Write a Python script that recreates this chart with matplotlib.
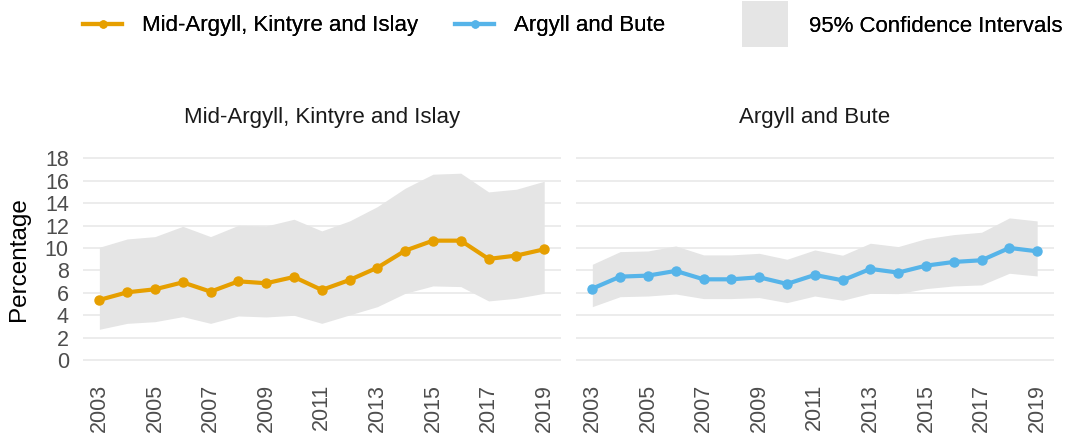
import numpy as np
import matplotlib.pyplot as plt
from matplotlib.patches import Rectangle
from matplotlib.lines import Line2D
from matplotlib.legend_handler import HandlerPatch

plt.rcParams["font.family"] = ["Liberation Sans", "DejaVu Sans"]

years = list(range(2003, 2020))

# Mid-Argyll, Kintyre and Islay
mid_value = [5.36, 6.04, 6.31, 6.93, 6.10, 7.02, 6.85, 7.41, 6.25, 7.14,
             8.24, 9.76, 10.65, 10.65, 9.02, 9.32, 9.88]
mid_upper = [10.06, 10.80, 11.01, 11.93, 11.01, 12.02, 11.96, 12.56, 11.52, 12.41,
             13.69, 15.33, 16.58, 16.67, 15.00, 15.24, 15.95]
mid_lower = [2.74, 3.27, 3.42, 3.87, 3.27, 3.93, 3.84, 3.99, 3.27, 4.02,
             4.76, 5.95, 6.61, 6.55, 5.27, 5.51, 5.95]

# Argyll and Bute
ab_value = [6.37, 7.44, 7.53, 7.95, 7.20, 7.20, 7.38, 6.79, 7.59, 7.11,
            8.13, 7.80, 8.42, 8.75, 8.90, 10.00, 9.70]
ab_upper = [8.54, 9.67, 9.73, 10.18, 9.38, 9.38, 9.52, 8.99, 9.82, 9.35,
            10.42, 10.12, 10.83, 11.19, 11.40, 12.68, 12.41]
ab_lower = [4.76, 5.65, 5.71, 5.89, 5.48, 5.48, 5.57, 5.12, 5.71, 5.33,
            5.95, 5.92, 6.37, 6.61, 6.70, 7.74, 7.50]

panels = [
    ("Mid-Argyll, Kintyre and Islay", mid_value, mid_lower, mid_upper, "#E69F00"),
    ("Argyll and Bute", ab_value, ab_lower, ab_upper, "#56B4E9"),
]

ci_colour = "#e5e5e5"
grid_colour = "#ebebeb"
text_colour = "#4d4d4d"
fs = 15.5

fig = plt.figure(figsize=(10.71, 4.42), dpi=100)
fig.patch.set_facecolor("white")

lefts = [0.0772, 0.5375]
axes = []
for i, (title, value, lower, upper, colour) in enumerate(panels):
    ax = fig.add_axes([lefts[i], 0.1627, 0.4465, 0.502])
    ax.fill_between(years, lower, upper, color=ci_colour, linewidth=0, zorder=1)
    ax.plot(years, value, color=colour, linewidth=3, marker="o",
            markersize=6.5, zorder=3)
    ax.set_xlim(2003 - 0.6, 2019 + 0.6)
    ax.set_ylim(-0.9, 18.9)
    ax.set_yticks(np.arange(0, 19, 2))
    ax.set_xticks(range(2003, 2020, 2))
    ax.tick_params(axis="x", labelrotation=90, length=0, labelsize=fs,
                   labelcolor=text_colour, pad=10)
    ax.tick_params(axis="y", length=0, labelsize=fs, labelcolor=text_colour, pad=10)
    ax.grid(axis="y", color=grid_colour, linewidth=1.3, zorder=0)
    ax.set_axisbelow(True)
    for s in ax.spines.values():
        s.set_visible(False)
    ax.set_title(title, fontsize=16, color="#1a1a1a", pad=18)
    if i == 1:
        ax.set_yticklabels([])
    axes.append(ax)

axes[0].set_ylabel("Percentage", fontsize=17.5, color="black")
axes[0].yaxis.set_label_coords(-0.11, 0.5)


class BigPatchHandler(HandlerPatch):
    # grey key square, larger than the line keys
    def create_artists(self, legend, orig_handle, xdescent, ydescent,
                       width, height, fontsize, trans):
        size = 33
        p = Rectangle((-xdescent, -ydescent + height / 2 - size / 2),
                      size, size, facecolor=ci_colour, edgecolor="none",
                      transform=trans)
        return [p]


entries = [
    (Line2D([], [], color="#E69F00", linewidth=3, marker="o", markersize=5),
     "Mid-Argyll, Kintyre and Islay", 83, 1.77),
    (Line2D([], [], color="#56B4E9", linewidth=3, marker="o", markersize=5),
     "Argyll and Bute", 455, 1.77),
    (Rectangle((0, 0), 1, 1, facecolor=ci_colour),
     "95% Confidence Intervals", 742, 2.1),
]
for handle, label, xpix, hl in entries:
    leg = fig.legend([handle], [label], loc="center left",
                     bbox_to_anchor=(xpix / 1071, 1 - 26 / 442),
                     frameon=False, fontsize=16, handlelength=hl,
                     handletextpad=0.9, borderpad=0, borderaxespad=0,
                     handler_map={Rectangle: BigPatchHandler()})
    fig.add_artist(leg)

fig.savefig("out.png", dpi=100, facecolor="white")
